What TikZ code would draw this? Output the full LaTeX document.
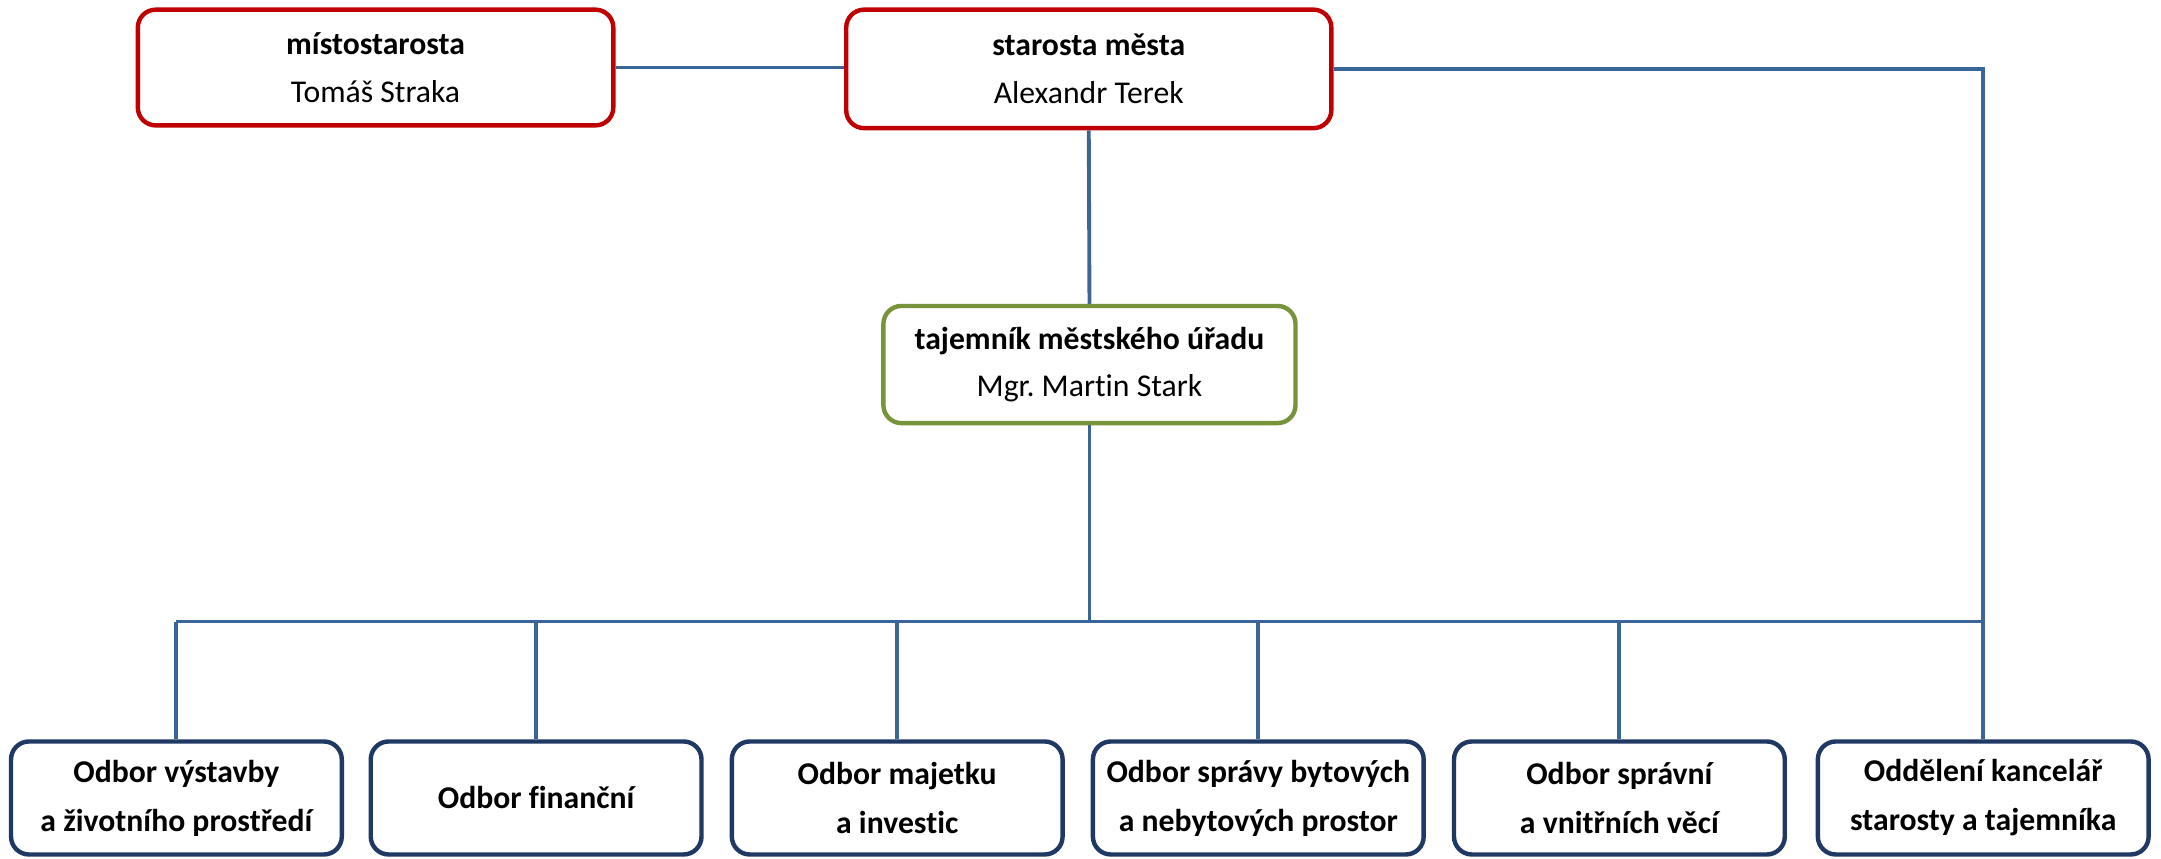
\documentclass[tikz,border=0pt]{standalone}
\usepackage{fontspec}
\setmainfont[Ligatures={NoCommon,NoRare},Contextuals=NoAlternate,RawFeature={-clig}]{Carlito}
\frenchspacing
\definecolor{redb}{HTML}{C00000}
\definecolor{greenb}{HTML}{77933C}
\definecolor{navyb}{HTML}{1F3864}
\definecolor{linec}{HTML}{3A6599}
\begin{document}
\begin{tikzpicture}[x=1pt,y=1pt,
  box/.style={draw, line width=3.2pt, rounded corners=13pt, fill=white, align=center,
    inner sep=0pt, font={\fontsize{23}{34.5}\selectfont}},
  lowertext/.style={execute at begin node={\rule{0pt}{#1}}},
  topbox/.style={box, draw=redb},
  midbox/.style={box, draw=greenb},
  dept/.style={box, draw=navyb, minimum width=240pt, minimum height=82pt,
    font={\fontsize{23}{35.5}\selectfont\bfseries}},
  conn/.style={draw=linec, line width=2.8pt}]
\useasboundingbox (0,0) rectangle (1568,-623);
\node[topbox, minimum width=345pt, minimum height=84pt] (mist) at (272.5,-49) {\textbf{místostarosta}\\Tomáš Straka};
\node[topbox, minimum width=352pt, minimum height=86pt] (star) at (790,-50) {\textbf{starosta města}\\Alexandr Terek};
\node[midbox, lowertext=25pt, minimum width=299pt, minimum height=85pt] (taj) at (790.5,-264.5) {\textbf{tajemník městského úřadu}\\Mgr.\ Martin Stark};
\node[dept, lowertext=27pt] (b1) at (128,-579) {Odbor výstavby\\a životního prostředí};
\node[dept] (b2) at (389,-579) {Odbor finanční};
\node[dept, lowertext=27pt] (b3) at (651,-579) {Odbor majetku\\a investic};
\node[dept, lowertext=23pt] (b4) at (913,-579) {Odbor správy bytových\\a nebytových prostor};
\node[dept, lowertext=27pt] (b5) at (1175,-579) {Odbor správní\\a vnitřních věcí};
\node[dept, lowertext=27pt] (b6) at (1439,-579) {Oddělení kancelář\\starosty a tajemníka};
\coordinate (bus) at (790.5,-451);
\draw[conn] (mist.east) -- (mist.east -| star.west);
\draw[conn] (star.south) -- (taj.north);
\draw[conn] (taj.south) -- (bus);
\draw[conn] (star.east) -| (b6.north);
\draw[conn] (b1.north |- bus) -- (b6.north |- bus);
\foreach \b in {b1,b2,b3,b4,b5}{\draw[conn] (\b.north) -- (\b.north |- bus);}
\end{tikzpicture}
\end{document}
